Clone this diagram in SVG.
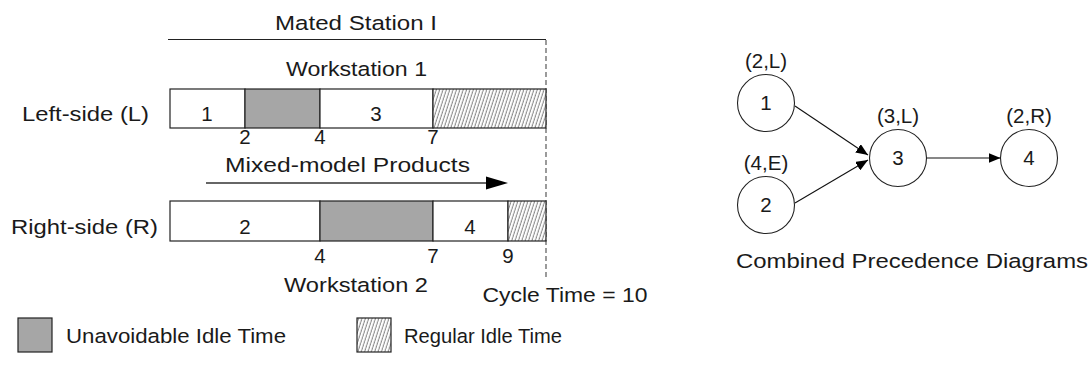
<svg xmlns="http://www.w3.org/2000/svg" width="1090" height="367" viewBox="0 0 1090 367">
<style>
.t{font-family:"Liberation Sans",Arial,sans-serif;font-size:20.5px;fill:#1a1a1a}
.m{text-anchor:middle}
.e{text-anchor:end}
.box{fill:#fff;stroke:#222;stroke-width:1.2}
.gray{fill:#a6a6a6;stroke:#222;stroke-width:1.2}
.hatch{fill:url(#hp);stroke:#222;stroke-width:1.2}
.node{fill:#fff;stroke:#222;stroke-width:1.1}
.edge{stroke:#111;stroke-width:1.1;fill:none}
</style>
<defs>
<pattern id="hp" width="3.2" height="4" patternUnits="userSpaceOnUse" patternTransform="rotate(18)">
<rect width="3.2" height="4" fill="#fff"/>
<line x1="1" y1="0" x2="1" y2="4" stroke="#555" stroke-width="0.8"/>
</pattern>
<marker id="ah" markerWidth="12" markerHeight="10" refX="12" refY="5" orient="auto" markerUnits="userSpaceOnUse">
<path d="M0,0 L12,5 L0,10 Z" fill="#000"/>
</marker>
</defs>

<g id="header">
<text class="t m" x="356" y="30" textLength="162" lengthAdjust="spacingAndGlyphs">Mated Station I</text>
<line x1="168" y1="39.5" x2="546" y2="39.5" stroke="#222" stroke-width="1.2"/>
<text class="t m" x="356.5" y="76" textLength="141" lengthAdjust="spacingAndGlyphs">Workstation 1</text>
</g>

<g id="cycle-line">
<line x1="546" y1="40" x2="546" y2="278" stroke="#666" stroke-width="1.3" stroke-dasharray="5,3"/>
<text class="t m" x="565" y="302" textLength="165" lengthAdjust="spacingAndGlyphs">Cycle Time = 10</text>
</g>

<g id="left-row">
<text class="t e" x="149" y="121" textLength="127" lengthAdjust="spacingAndGlyphs">Left-side (L)</text>
<rect class="box" x="170" y="89" width="75" height="39"/>
<rect class="gray" x="245" y="89" width="75" height="39"/>
<rect class="box" x="320" y="89" width="113" height="39"/>
<rect class="hatch" x="433" y="89" width="113" height="39"/>
<text class="t m" x="207" y="121">1</text>
<text class="t m" x="376" y="121">3</text>
<text class="t m" x="245" y="144">2</text>
<text class="t m" x="320" y="144">4</text>
<text class="t m" x="433" y="144">7</text>
</g>

<g id="flow">
<text class="t m" x="347.5" y="172" textLength="245" lengthAdjust="spacingAndGlyphs">Mixed-model Products</text>
<line x1="206" y1="183" x2="490" y2="183" stroke="#333" stroke-width="1.5"/>
<path d="M486,176.5 L508,183 L486,189.5 Z" fill="#000"/>
</g>

<g id="right-row">
<text class="t e" x="158" y="233.5" textLength="147" lengthAdjust="spacingAndGlyphs">Right-side (R)</text>
<rect class="box" x="170" y="201" width="150" height="40"/>
<rect class="gray" x="320" y="201" width="113" height="40"/>
<rect class="box" x="433" y="201" width="75" height="40"/>
<rect class="hatch" x="508" y="201" width="38" height="40"/>
<text class="t m" x="245" y="233.5">2</text>
<text class="t m" x="470" y="233.5">4</text>
<text class="t m" x="320" y="263">4</text>
<text class="t m" x="433" y="263">7</text>
<text class="t m" x="508" y="263">9</text>
<text class="t m" x="356" y="292" textLength="144" lengthAdjust="spacingAndGlyphs">Workstation 2</text>
</g>

<g id="legend">
<rect class="gray" x="18" y="318" width="34" height="34"/>
<text class="t" x="66" y="343" textLength="220" lengthAdjust="spacingAndGlyphs">Unavoidable Idle Time</text>
<rect class="hatch" x="357" y="318" width="34" height="34"/>
<text class="t" x="404" y="343" textLength="158" lengthAdjust="spacingAndGlyphs">Regular Idle Time</text>
</g>

<g id="connectors">
<line class="edge" x1="795" y1="106" x2="868" y2="155" marker-end="url(#ah)"/>
<line class="edge" x1="795" y1="203" x2="868" y2="160" marker-end="url(#ah)"/>
<line class="edge" x1="927" y1="158" x2="1000.5" y2="158" marker-end="url(#ah)"/>
</g>

<g id="node1">
<text class="t m" x="766" y="68">(2,L)</text>
<circle class="node" cx="766" cy="103" r="28.5"/>
<text class="t m" x="766" y="110">1</text>
</g>
<g id="node2">
<text class="t m" x="766" y="170">(4,E)</text>
<circle class="node" cx="766" cy="205" r="28.5"/>
<text class="t m" x="766" y="212">2</text>
</g>
<g id="node3">
<text class="t m" x="898" y="123">(3,L)</text>
<circle class="node" cx="898" cy="158" r="28.5"/>
<text class="t m" x="898" y="165">3</text>
</g>
<g id="node4">
<text class="t m" x="1029" y="123">(2,R)</text>
<circle class="node" cx="1029" cy="158" r="28.5"/>
<text class="t m" x="1029" y="165">4</text>
</g>
<text class="t m" x="912" y="268" textLength="352" lengthAdjust="spacingAndGlyphs">Combined Precedence Diagrams</text>
</svg>
